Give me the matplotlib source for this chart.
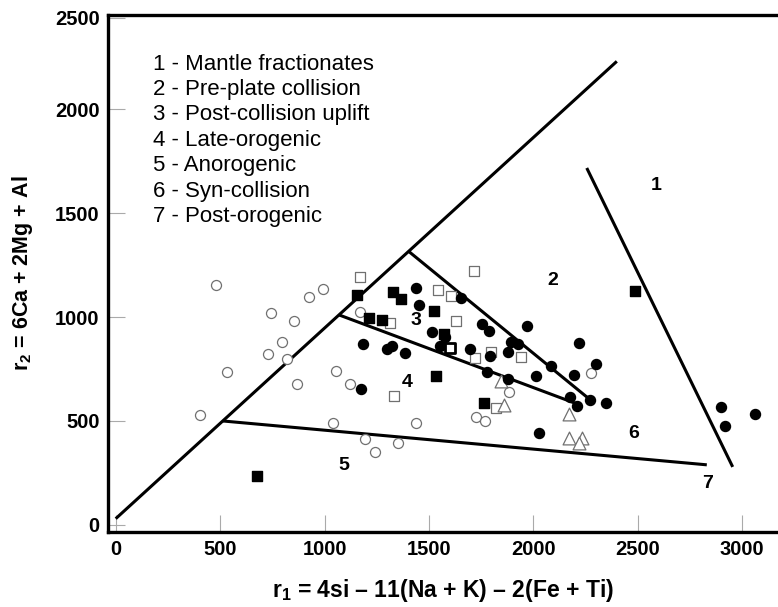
import matplotlib
matplotlib.use("Agg")
import matplotlib.pyplot as plt

plt.rcParams['font.family'] = ['Liberation Sans', 'DejaVu Sans']
plt.rcParams['mathtext.fontset'] = 'custom'
plt.rcParams['mathtext.rm'] = 'Liberation Sans'
plt.rcParams['mathtext.bf'] = 'Liberation Sans:bold'

# sample points (r1, r2)
open_circle_x = [478, 993, 924, 746, 854, 797, 727, 821, 532, 1057, 866, 1121, 406,
                 1041, 1193, 1242, 1351, 1436, 1169, 1882, 1724, 1771, 2274]
open_circle_y = [1153, 1135, 1095, 1018, 981, 881, 821, 798, 737, 742, 680, 676, 531,
                 491, 414, 350, 394, 489, 1026, 641, 518, 502, 733]

open_square_x = [1169, 1716, 1544, 1608, 1314, 1632, 1798, 1723, 1943, 1332, 1819]
open_square_y = [1191, 1223, 1130, 1103, 973, 983, 834, 803, 807, 622, 561]

bold_square_x = [1603]
bold_square_y = [851]

filled_square_x = [1158, 1328, 1365, 1213, 1273, 1523, 1571, 1536, 1763, 679, 2486]
filled_square_y = [1106, 1119, 1087, 996, 986, 1029, 917, 717, 588, 236, 1127]

filled_circle_x = [1437, 1453, 1653, 1752, 1787, 1515, 1579, 1552, 1696, 1791, 1879,
                   1892, 1927, 1972, 1185, 1300, 1324, 1386, 1174, 1779, 1879, 2012,
                   2087, 2194, 2178, 2207, 2028, 2219, 2299, 2270, 2350, 2897, 2919, 3061]
filled_circle_y = [1141, 1058, 1090, 965, 933, 927, 906, 861, 845, 814, 831,
                   882, 869, 959, 869, 847, 861, 827, 653, 736, 701, 717,
                   766, 722, 617, 574, 444, 877, 773, 601, 588, 569, 476, 534]

triangle_x = [1844, 1862, 2170, 2170, 2234, 2218]
triangle_y = [694, 577, 532, 420, 420, 393]

# field boundaries
boundaries = [
    ([0, 2400], [30, 2230]),
    ([513, 2831], [500, 289]),
    ([1403, 2275], [1316, 600]),
    ([1070, 2215], [1010, 580]),
    ([2256, 2955], [1717, 279]),
]

field_labels = ['1', '2', '3', '4', '5', '6', '7']
field_x = [2587, 2093, 1437, 1394, 1092, 2481, 2836]
field_y = [1631, 1178, 981, 683, 284, 438, 197]

legend_lines = ['1 - Mantle fractionates', '2 - Pre-plate collision',
                '3 - Post-collision uplift', '4 - Late-orogenic', '5 - Anorogenic',
                '6 - Syn-collision', '7 - Post-orogenic']

xticks = [0, 500, 1000, 1500, 2000, 2500, 3000]
yticks = [0, 500, 1000, 1500, 2000, 2440]
ytick_labels = ['0', '500', '1000', '1500', '2000', '2500']

fig = plt.figure(figsize=(7.78, 6.07), dpi=100)
ax = fig.add_axes([0.1388, 0.1236, 0.8612, 0.8517])

for bx, by in boundaries:
    ax.plot(bx, by, color='black', lw=2.2, solid_capstyle='butt', zorder=2)

grey = '#707070'
ax.scatter(open_circle_x, open_circle_y, s=52, facecolors='white', edgecolors=grey,
           linewidths=0.9, zorder=3)
ax.scatter(open_square_x, open_square_y, s=55, marker='s', facecolors='white',
           edgecolors=grey, linewidths=0.9, zorder=3)
ax.scatter(triangle_x, triangle_y, s=85, marker='^', facecolors='white',
           edgecolors=grey, linewidths=0.9, zorder=3)
ax.scatter(filled_circle_x, filled_circle_y, s=52, color='black', zorder=4)
ax.scatter(filled_square_x, filled_square_y, s=48, marker='s', color='black', zorder=4)
ax.scatter(bold_square_x, bold_square_y, s=42, marker='s', facecolors='white',
           edgecolors='black', linewidths=2, zorder=5)

for lab, fx, fy in zip(field_labels, field_x, field_y):
    ax.text(fx, fy, lab, fontsize=14, fontweight='bold', ha='center', va='center')

for i, line in enumerate(legend_lines):
    ax.text(0.067, 0.905 - i * 0.0492, line, transform=ax.transAxes, fontsize=16,
            ha='left', va='center')

ax.set_xlim(-37, 3172)
ax.set_ylim(-34, 2453)
ax.set_xticks(xticks)
ax.set_yticks(yticks)
ax.set_yticklabels(ytick_labels)
ax.tick_params(direction='in', length=12, width=0.8, color='#aaaaaa', pad=6)
for lab in ax.get_xticklabels() + ax.get_yticklabels():
    lab.set_fontweight('bold')
    lab.set_fontsize(14.5)

for side in ['left', 'bottom', 'top']:
    ax.spines[side].set_linewidth(2.4)
ax.spines['right'].set_visible(False)

ax.set_xlabel(r'$\mathbf{r_1}$ = 4si – 11(Na + K) – 2(Fe + Ti)', fontsize=16.5,
              fontweight='bold', labelpad=13)
ax.set_ylabel(r'$\mathbf{r_2}$ = 6Ca + 2Mg + Al', fontsize=15.5, fontweight='bold',
              labelpad=14)

fig.savefig('out.png', dpi=100)
